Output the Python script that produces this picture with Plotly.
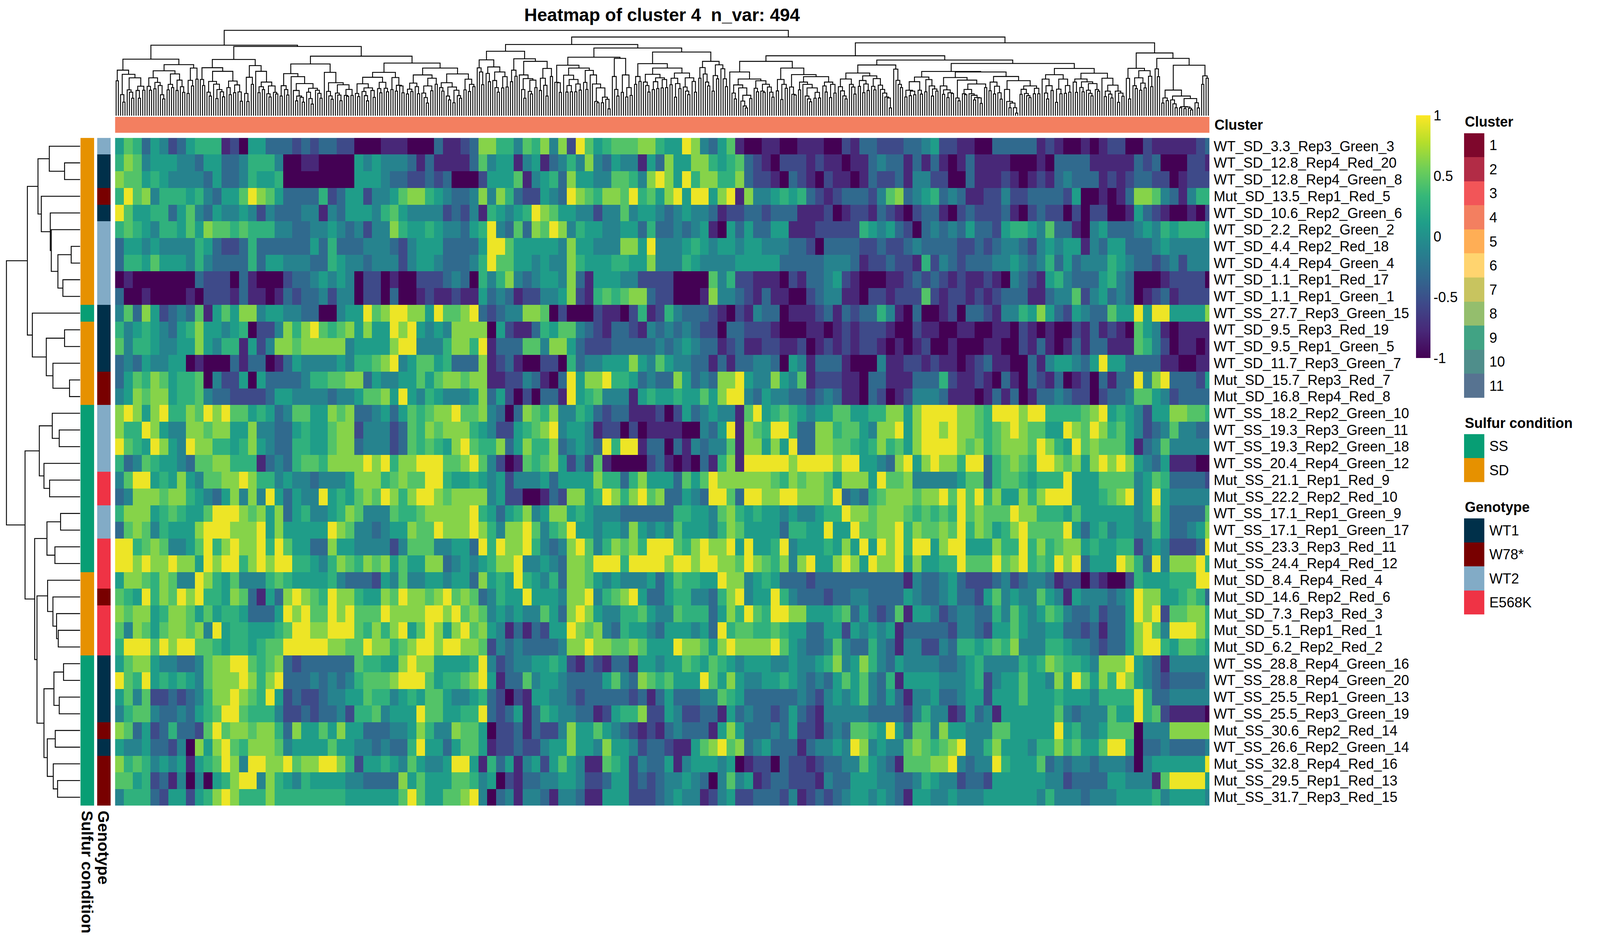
import sys
import numpy as np
import plotly.graph_objects as go

sys.setrecursionlimit(5000)

# reference frame used to place the chart; the page itself fills the browser window
W, H = 4800, 2400
FONT = "Liberation Sans"
LABEL_SIZE = 36
TITLE_SIZE = 46
ROTATED_SIZE = 41
LINE_WIDTH = 2.3

ROW_LABELS = ["WT_SD_3.3_Rep3_Green_3","WT_SD_12.8_Rep4_Red_20","WT_SD_12.8_Rep4_Green_8","Mut_SD_13.5_Rep1_Red_5","WT_SD_10.6_Rep2_Green_6","WT_SD_2.2_Rep2_Green_2","WT_SD_4.4_Rep2_Red_18","WT_SD_4.4_Rep4_Green_4","WT_SD_1.1_Rep1_Red_17","WT_SD_1.1_Rep1_Green_1","WT_SS_27.7_Rep3_Green_15","WT_SD_9.5_Rep3_Red_19","WT_SD_9.5_Rep1_Green_5","WT_SD_11.7_Rep3_Green_7","Mut_SD_15.7_Rep3_Red_7","Mut_SD_16.8_Rep4_Red_8","WT_SS_18.2_Rep2_Green_10","WT_SS_19.3_Rep3_Green_11","WT_SS_19.3_Rep2_Green_18","WT_SS_20.4_Rep4_Green_12","Mut_SS_21.1_Rep1_Red_9","Mut_SS_22.2_Rep2_Red_10","WT_SS_17.1_Rep1_Green_9","WT_SS_17.1_Rep1_Green_17","Mut_SS_23.3_Rep3_Red_11","Mut_SS_24.4_Rep4_Red_12","Mut_SD_8.4_Rep4_Red_4","Mut_SD_14.6_Rep2_Red_6","Mut_SD_7.3_Rep3_Red_3","Mut_SD_5.1_Rep1_Red_1","Mut_SD_6.2_Rep2_Red_2","WT_SS_28.8_Rep4_Green_16","WT_SS_28.8_Rep4_Green_20","WT_SS_25.5_Rep1_Green_13","WT_SS_25.5_Rep3_Green_19","Mut_SS_30.6_Rep2_Red_14","WT_SS_26.6_Rep2_Green_14","Mut_SS_32.8_Rep4_Red_16","Mut_SS_29.5_Rep1_Red_13","Mut_SS_31.7_Rep3_Red_15"]

SULFUR_ROWS = ["SD"]*10 + ["SS"] + ["SD"]*5 + ["SS"]*10 + ["SD"]*5 + ["SS"]*9
GENOTYPE_ROWS = ["WT2","WT1","WT1","W78*","WT1","WT2","WT2","WT2","WT2","WT2","WT1","WT1","WT1","WT1","W78*","W78*","WT2","WT2","WT2","WT2","E568K","E568K","WT2","WT2","E568K","E568K","E568K","W78*","E568K","E568K","E568K","WT1","WT1","WT1","WT1","W78*","WT1","W78*","W78*","W78*"]

CLUSTER_NAMES = ["1","2","3","4","5","6","7","8","9","10","11"]
CLUSTER_COLORS = ["#7E072C","#B22C46","#F25558","#F37F60","#FFAE55","#FFD46F","#C8C45F","#94BE6D","#41A384","#4F8E8B","#577391"]
SULFUR_NAMES = ["SS","SD"]
SULFUR_COLORS = ["#079E74","#E69100"]
GENOTYPE_NAMES = ["WT1","W78*","WT2","E568K"]
GENOTYPE_COLORS = ["#00304A","#780000","#82ABC6","#EF3345"]
COLUMN_CLUSTER = "4"

COL_MERGE_LEVELS = [450,368,557,615,400,520,538,585,427,525,585,492,523,283,
493,523,427,512,463,487,558,590,373,520,478,503,397,525,445,496,540,325,
548,447,490,352,438,175,
440,487,349,538,568,455,476,587,518,535,574,377,503,557,452,542,482,536,608,285,548,610,423,478,333,377,542,496,518,460,550,575,490,540,552,185,
568,488,518,560,395,418,525,605,568,578,615,472,538,587,630,508,523,547,585,320,385,532,567,593,465,545,560,604,481,563,570,517,563,260,
548,572,473,533,565,605,505,525,578,423,510,543,462,508,535,385,518,425,530,485,490,543,313,
552,515,533,468,495,550,405,545,580,622,490,527,430,477,352,503,530,465,568,598,498,620,523,565,585,397,520,438,533,478,495,60,
350,382,480,288,393,457,343,448,503,538,382,505,418,498,222,457,368,415,280,405,518,585,433,532,552,445,503,300,525,430,485,568,355,417,170,
462,465,540,330,407,537,487,535,440,535,475,522,352,463,517,370,405,475,610,620,505,620,577,593,667,268,417,517,568,277,540,405,575,503,563,197,
478,417,455,318,460,487,537,400,518,457,510,427,505,440,503,352,480,430,577,472,510,390,498,530,557,427,455,538,228,430,348,398,460,490,300,530,410,435,327,357,435,495,112,
382,545,590,482,505,607,645,660,562,587,436,508,535,450,530,540,477,498,538,577,300,528,440,595,478,508,352,498,555,560,402,520,460,478,568,590,612,505,585,540,583,418,490,537,460,580,478,545,257,
496,528,567,590,436,478,498,553,390,493,448,542,475,525,412,493,520,433,484,517,545,575,583,660,328,360,447,478,503,290,
575,523,565,530,558,457,523,553,421,535,441,490,568,513,530,378,490,555,520,580,543,548,425,583,605,445,550,557,517,550,562,598,580,582,625,475,503,382,
527,460,552,492,543,592,417,517,610,658,622,658,700,449,555,516,548,565,580,490,550,508,550,316,
437,545,590,488,525,403,617,515,550,437,547,487,538,355,460,540,436,502,535,458,523,547,567,472,518,530,392,430,572,530,553,583,484,530,617,545,570,157,
432,590,354,488,510,427,523,468,505,372,415,495,235,358,418,277,622,583,603,522,598,628,658,568,658,650,665,652,663,675,587,620,660,330,478,412,430]

ROW_MERGE_LEVELS = [139,185,105,115,142,145,205,165,180,73,88,185,130,150,200,10,148,169,109,123,140,66,173,132,156,95,134,150,161,166,102,182,153,169,123,157,133,151,164]

# value that each colour class read from the picture stands for
CLASS_VALUES = [-1.0, -0.78, -0.55, -0.32, -0.1, 0.1, 0.28, 0.45, 0.63, 0.95]

HEAT_A = [
"5763542356661205533323233220001","6874555443553346664001100005454","8775654444353346556000000005554","697846665643557987533336235524",
"9755663574354454243334414355546","6765466575877676664433445434244","3554544446532236333333536333444","3665755546433336355444336544344",
"0100000003222031000233454540220","3001000010222131101323342440220","4738523437157588455443300455978","645654356855456022486897678585",
"74665445585466152488788888 4555".replace(" ",""),"3435445501000313301354444546678","3576875667042250533334667788354","4587885667433222235544443445778",
"898589668798977565347755878 3345".replace(" ",""),"8669854488788558443356557882444","9765985498866568543366557883444","6347655437788666134367768888989",
"4799565854778898664544344458886","3488878865435848495354495657879","6888567655799987858356445687444","3787465558999888958555559874434",
"9967874457968988969755338554444","9989889885989968989966546876878","5887687449865744467655556433325","7659687989665873153898769886558",
"8788568875756653335989779897779","7487578878495665556799889997686","6999798997765665677999998877988","5788544334788997678323333337665",
"9769565654788898689333434346777","5747223234688987695232234455766","4677433435679976664223233426674","8735236332797887886385575855333",
"5445332408589768887455557554434","8676454515679849988978899862556","7756231404056899486546555544333","4666325525689866686666666655555"]

HEAT_B = [
"1100031123886647684829756777886","4431311113745514513464843544153","3322323000255571456385544776489","5788654334848632254398768879675",
"7544442324165456987554424474554","8655654435694373879846554455363","3245553333599755555485544488594","4245543334697755454486555665584",
"1002223430646843455483155544222","3001211211534312244582167678832","9988597789323448870200021102612","9895454888805211365774321332143",
"8994446886913337748853222333334","9457756333812310022063445558547","4557578878811224310395889665343","5954654445835202033195674441565",
"3576788977843038768446532331112","2376878886542256789455412202011","237676589766835866834543969913","6889997789742017678524271000023",
"7877996556545244453555586636855","8689987888845220013288569868978","7667888889653568458856544433333","5587798889864889746795545548545",
"2477744553969889643489746878699","5755883454568894454388799969999","4744554553856596546388754544453","7988789787346559555488946789533",
"8888998978745454475389854466754","8957985897854131325598784365543","6789989988724343333488988778755","5898855556942344556521321331554",
"8999756678951337455433335743876","4565775445632021554432333332313","5559775566932351365443312566822","4458644877502231322485575432121",
"33695535775122322455855485542332","5475445995163514525754117652433","3857555776450213344554223552323","5797557789403414431443115552223"]

HEAT_C = [
"5598435710011001110021332223345","8558865673210222121101134331313","8596886683221032102110132231442","8959958918445656321233324783456",
"3454431223323331112012213210233","3434510535335511122222654532034","4456545545544433203333223223433","4465444455555333334443122322162",
"2000074622111021334521000112323","2000184432131100234411022122272","6433321021433011123132336410300","4343220332221000110121222100211",
"3454331231122112012121221010120","5443313133443054133310004112212","3853438895448547122211033111333","5655758994354433234311032012444",
"0253454417956765455775566885899","1100435918769963388677548895899","0314344718858593388776568675899","1010316819999989999899554389589",
"5375798888887687887588859778444","3354399739988998887934367888788","3665547865655454456698878887676","475554687555536655955977889687",
"9768988959556945556585959896995","899899887987684895589859889585","5766559884565333233333333331433","566443689455964333233443333543",
"4766635869769988555673532371554","555453967766765533552545451333","5988758988889754334743364314422","5576576545554454456845864354444",
"7555975854455654343575743615555","5333447653333334324545743531445","5422331534332353214444433332464","3433315853334352213437765953774",
"2115789783453331344549845447876","5145554501220322123344754317778","4454304745123322214335554433465","4544124522333241232345545431554"]

HEAT_D = [
"2211003333312100101220021111123","1013111100010333311111323000221","2003111210121343331212332201222","3431122422333325001013887431466",
"1023222310232202022001532100102","3435332566547331045333454656665","3322323443245455143553334544444","4323334454346353444654332342444",
"2121121043215643335643000122220","1221212333113447245343012312222","1203321446585325433755959955558","0011001102101002131210754101111",
"0100011002131013133111764201101","1101231100314554359553333110011","6211210310321301203133948933325","3111013130133432202334775423333",
"9988769998996666789565425588776","8988767898775598798675423474433","9987867888798659787775134744444","886993678769987858989854351110",
"4457736776566695557777457633332","9797968558689995556789459544444","7697877798866657555555458533337","8796875689777795356455447533458",
"8995558669686788565566245422239","6697779789676989355598639488896","453222342344312202100265556669","4533257454475415444345988556763",
"2344336475457643342335989277886","3244325575445533231335897499986","4366567684446654432335899657765","3345644446568766548889543144444",
"4445624557554859758698543233334","3345525557555655546666963344444","4125341555555743444755967211110","8554447755555956445777044488888",
"7894468555466867557996033433334","8943449655573434434443045555559","4423325555554423333554441799995","4544455555546444344455556455554"]


def seg(s):
    s = s[:31]
    return s + s[-1] * (31 - len(s))


HEAT_DIGITS = [seg(a) + seg(b) + seg(c) + seg(d) for a, b, c, d in zip(HEAT_A, HEAT_B, HEAT_C, HEAT_D)]
Z = np.array([[CLASS_VALUES[int(ch)] for ch in r] for r in HEAT_DIGITS], dtype=float)
X_CENTERS = 1.5 + 4 * np.arange(Z.shape[1])


def px(x):
    return x / W


def py(y):
    return 1 - y / H


def dendro(levels):
    xs, ys = [], []

    def node(l, r):
        if l == r:
            return float(l), 0.0
        k = l + int(np.argmax(levels[l:r]))
        xa, ha = node(l, k)
        xb, hb = node(k + 1, r)
        h = levels[k]
        xs.extend([xa, xa, xb, xb, None])
        ys.extend([ha, h, h, hb, None])
        return (xa + xb) / 2, h

    node(0, len(levels))
    return xs, ys


def steps(colors):
    n = len(colors)
    out = []
    for i, c in enumerate(colors):
        out += [[i / n, c], [(i + 1) / n, c]]
    return out


fig = go.Figure()
layout = {}

fig.add_trace(go.Heatmap(
    z=Z, x=X_CENTERS, y=list(range(40)), xaxis="x", yaxis="y", zmin=-1, zmax=1,
    colorscale="Viridis", hoverinfo="skip",
    colorbar=dict(thicknessmode="pixels", thickness=37, lenmode="fraction", len=625 / H,
                  x=px(4255), xanchor="left", y=py(914), yanchor="bottom", xpad=0, ypad=0,
                  outlinewidth=0, ticks="", tickmode="array",
                  tickvals=[-1, -0.5, 0, 0.5, 1], ticktext=["-1", "-0.5", "0", "0.5", "1"],
                  tickfont=dict(family=FONT, size=LABEL_SIZE, color="black"))))
layout["xaxis"] = dict(domain=[px(337), px(3633)], range=[-0.5, 493.5], visible=False, anchor="y")
layout["yaxis"] = dict(domain=[py(2067), py(347)], range=[39.5, -0.5], side="right", anchor="x",
                       tickmode="array", tickvals=list(range(40)), ticktext=ROW_LABELS, ticks="",
                       showgrid=False, zeroline=False, showline=False, ticklabelstandoff=10,
                       tickfont=dict(family=FONT, size=LABEL_SIZE, color="black"))

xs, ys = dendro([720 - v for v in COL_MERGE_LEVELS])
fig.add_trace(go.Scatter(x=xs, y=ys, mode="lines", xaxis="x", yaxis="y2", hoverinfo="skip",
                         line=dict(color="black", width=LINE_WIDTH), showlegend=False))
layout["yaxis2"] = dict(domain=[py(290), py(50)], range=[0, 720], visible=False, anchor="x")

xs, ys = dendro([232 - v for v in ROW_MERGE_LEVELS])
fig.add_trace(go.Scatter(x=ys, y=xs, mode="lines", xaxis="x2", yaxis="y", hoverinfo="skip",
                         line=dict(color="black", width=LINE_WIDTH), showlegend=False))
layout["xaxis2"] = dict(domain=[px(0), px(232)], range=[232, 0], visible=False, anchor="y")


def cat_heat(n, z, colors, xd, yd, labels=None):
    xa, ya = f"x{n}", f"y{n}"
    k = len(colors)
    fig.add_trace(go.Heatmap(z=z, xaxis=xa, yaxis=ya, zmin=-0.5, zmax=k - 0.5,
                             colorscale=steps(colors), showscale=False, hoverinfo="skip"))
    rows, cols = np.array(z).shape
    layout[f"xaxis{n}"] = dict(domain=[px(xd[0]), px(xd[1])], range=[-0.5, cols - 0.5],
                               visible=False, anchor=ya)
    ax = dict(domain=[py(yd[1]), py(yd[0])], range=[rows - 0.5, -0.5], anchor=xa,
              showgrid=False, zeroline=False, showline=False, ticks="")
    if labels:
        ax.update(side="right", tickmode="array", tickvals=list(range(rows)), ticktext=labels,
                  ticklabelstandoff=12, tickfont=dict(family=FONT, size=LABEL_SIZE, color="black"))
    else:
        ax.update(visible=False)
    layout[f"yaxis{n}"] = ax


cat_heat(3, [[CLUSTER_NAMES.index(COLUMN_CLUSTER)]], CLUSTER_COLORS, (337, 3633), (293, 334))
cat_heat(4, [[SULFUR_NAMES.index(s)] for s in SULFUR_ROWS], SULFUR_COLORS, (233, 274), (347, 2067))
cat_heat(5, [[GENOTYPE_NAMES.index(s)] for s in GENOTYPE_ROWS], GENOTYPE_COLORS, (283, 324), (347, 2067))
cat_heat(6, [[i] for i in range(11)], CLUSTER_COLORS, (4400, 4461), (335, 1017), CLUSTER_NAMES)
cat_heat(7, [[i] for i in range(2)], SULFUR_COLORS, (4400, 4461), (1110, 1234), SULFUR_NAMES)
cat_heat(8, [[i] for i in range(4)], GENOTYPE_COLORS, (4400, 4461), (1327, 1575), GENOTYPE_NAMES)


def note(text, x, y, size=LABEL_SIZE, xanchor="left", yanchor="middle", angle=0):
    return dict(text=text, x=px(x), y=py(y), xref="paper", yref="paper", showarrow=False,
                xanchor=xanchor, yanchor=yanchor, textangle=angle,
                font=dict(family=FONT, size=size, color="black"))


annotations = [
    note("<b>Heatmap of cluster 4\u00a0 n_var: 494</b>", 1985, 30, size=TITLE_SIZE, xanchor="center"),
    note("<b>Cluster</b>", 3646, 314),
    note("<b>Cluster</b>", 4400, 306),
    note("<b>Sulfur condition</b>", 4400, 1082),
    note("<b>Genotype</b>", 4400, 1298),
    note("<b>Sulfur condition</b>", 253, 2078, size=ROTATED_SIZE, xanchor="center", yanchor="top", angle=90),
    note("<b>Genotype</b>", 303, 2078, size=ROTATED_SIZE, xanchor="center", yanchor="top", angle=90),
]

fig.update_layout(autosize=True, margin=dict(l=0, r=0, t=0, b=0), paper_bgcolor="white",
                  plot_bgcolor="white", showlegend=False, annotations=annotations, **layout)
fig.write_html("out.html")
